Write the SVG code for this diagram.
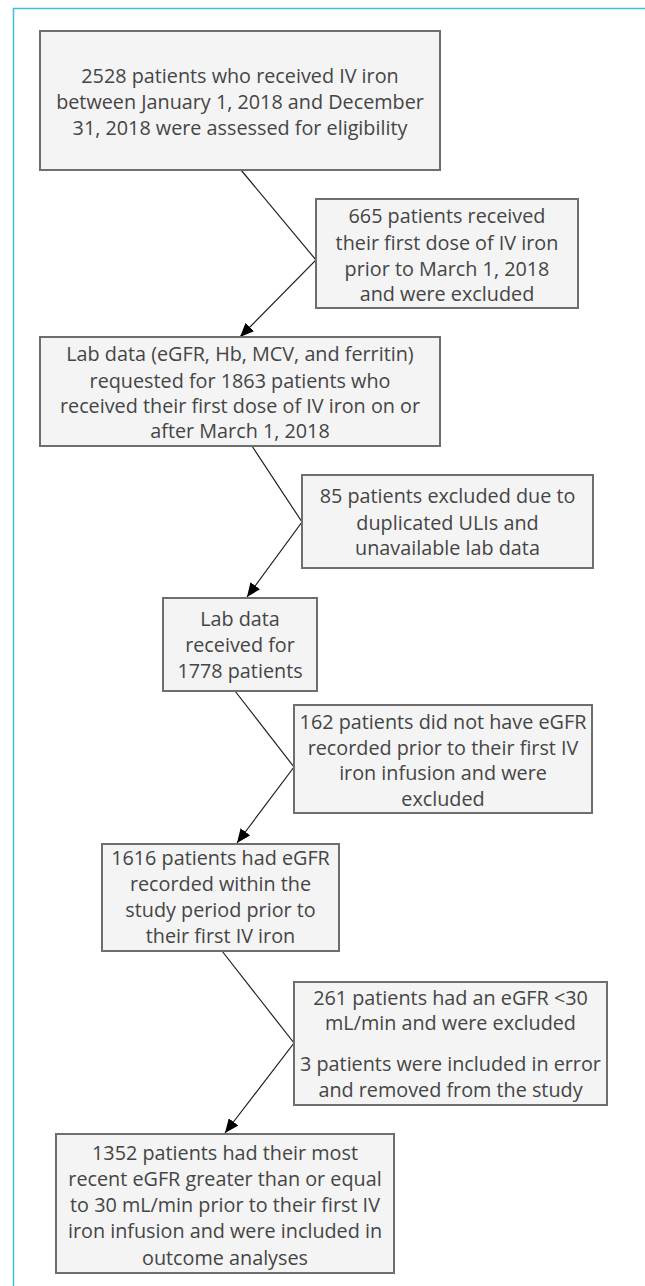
<svg xmlns="http://www.w3.org/2000/svg" width="645" height="1286" viewBox="0 0 645 1286">
<defs>
<style>
.box{fill:#f4f4f4;stroke:#6e6e6e;stroke-width:2}
.t{font-family:"Open Sans","Noto Sans",sans-serif;font-size:19.8px;fill:#454545;text-anchor:middle;dominant-baseline:central}
.c{fill:none;stroke:#222;stroke-width:1.2}
</style>
<marker id="ah" viewBox="0 0 14 12" refX="14" refY="6" markerWidth="14" markerHeight="12" markerUnits="userSpaceOnUse" orient="auto">
<path d="M0,0 L14,6 L0,12 Z" fill="#000"/>
</marker>
</defs>
<rect width="645" height="1286" fill="#fff"/>
<path d="M13.5,1286 V8.5 H645" fill="none" stroke="#3cc0df" stroke-width="1.5"/>
<g id="connectors">
<path class="c" d="M241,170 L316,260 L240,337" marker-end="url(#ah)"/>
<path class="c" d="M252,446 L302,522 L247,597" marker-end="url(#ah)"/>
<path class="c" d="M235,691 L294,767 L237,843" marker-end="url(#ah)"/>
<path class="c" d="M222,951 L294,1043 L225,1133" marker-end="url(#ah)"/>
</g>
<g id="n1">
<rect class="box" x="40" y="31" width="400" height="139"/>
<text class="t" x="240" y="75">2528 patients who received IV iron</text>
<text class="t" x="240" y="101">between January 1, 2018 and December</text>
<text class="t" x="240" y="127">31, 2018 were assessed for eligibility</text>
</g>
<g id="n2">
<rect class="box" x="316" y="199" width="262" height="109"/>
<text class="t" x="447" y="215">665 patients received</text>
<text class="t" x="447" y="242">their first dose of IV iron</text>
<text class="t" x="447" y="268">prior to March 1, 2018</text>
<text class="t" x="447" y="293">and were excluded</text>
</g>
<g id="n3">
<rect class="box" x="40" y="337" width="400" height="109"/>
<text class="t" x="240" y="353">Lab data (eGFR, Hb, MCV, and ferritin)</text>
<text class="t" x="240" y="380">requested for 1863 patients who</text>
<text class="t" x="240" y="405">received their first dose of IV iron on or</text>
<text class="t" x="240" y="430">after March 1, 2018</text>
</g>
<g id="n4">
<rect class="box" x="302" y="475" width="291" height="93"/>
<text class="t" x="447.5" y="495">85 patients excluded due to</text>
<text class="t" x="447.5" y="522">duplicated ULIs and</text>
<text class="t" x="447.5" y="547">unavailable lab data</text>
</g>
<g id="n5">
<rect class="box" x="163" y="598" width="154" height="93"/>
<text class="t" x="240" y="618">Lab data</text>
<text class="t" x="240" y="644">received for</text>
<text class="t" x="240" y="670">1778 patients</text>
</g>
<g id="n6">
<rect class="box" x="294" y="705" width="298" height="108"/>
<text class="t" x="443" y="721">162 patients did not have eGFR</text>
<text class="t" x="443" y="747">recorded prior to their first IV</text>
<text class="t" x="443" y="772">iron infusion and were</text>
<text class="t" x="443" y="798">excluded</text>
</g>
<g id="n7">
<rect class="box" x="102" y="844" width="237" height="107"/>
<text class="t" x="220.5" y="857">1616 patients had eGFR</text>
<text class="t" x="220.5" y="883">recorded within the</text>
<text class="t" x="220.5" y="909">study period prior to</text>
<text class="t" x="220.5" y="935">their first IV iron</text>
</g>
<g id="n8">
<rect class="box" x="294" y="982" width="313" height="123"/>
<text class="t" x="450.5" y="997">261 patients had an eGFR &lt;30</text>
<text class="t" x="450.5" y="1022">mL/min and were excluded</text>
<text class="t" x="450.5" y="1063">3 patients were included in error</text>
<text class="t" x="450.5" y="1089">and removed from the study</text>
</g>
<g id="n9">
<rect class="box" x="56" y="1134" width="338" height="139"/>
<text class="t" x="225" y="1152">1352 patients had their most</text>
<text class="t" x="225" y="1178">recent eGFR greater than or equal</text>
<text class="t" x="225" y="1204">to 30 mL/min prior to their first IV</text>
<text class="t" x="225" y="1230">iron infusion and were included in</text>
<text class="t" x="225" y="1257">outcome analyses</text>
</g>
</svg>
